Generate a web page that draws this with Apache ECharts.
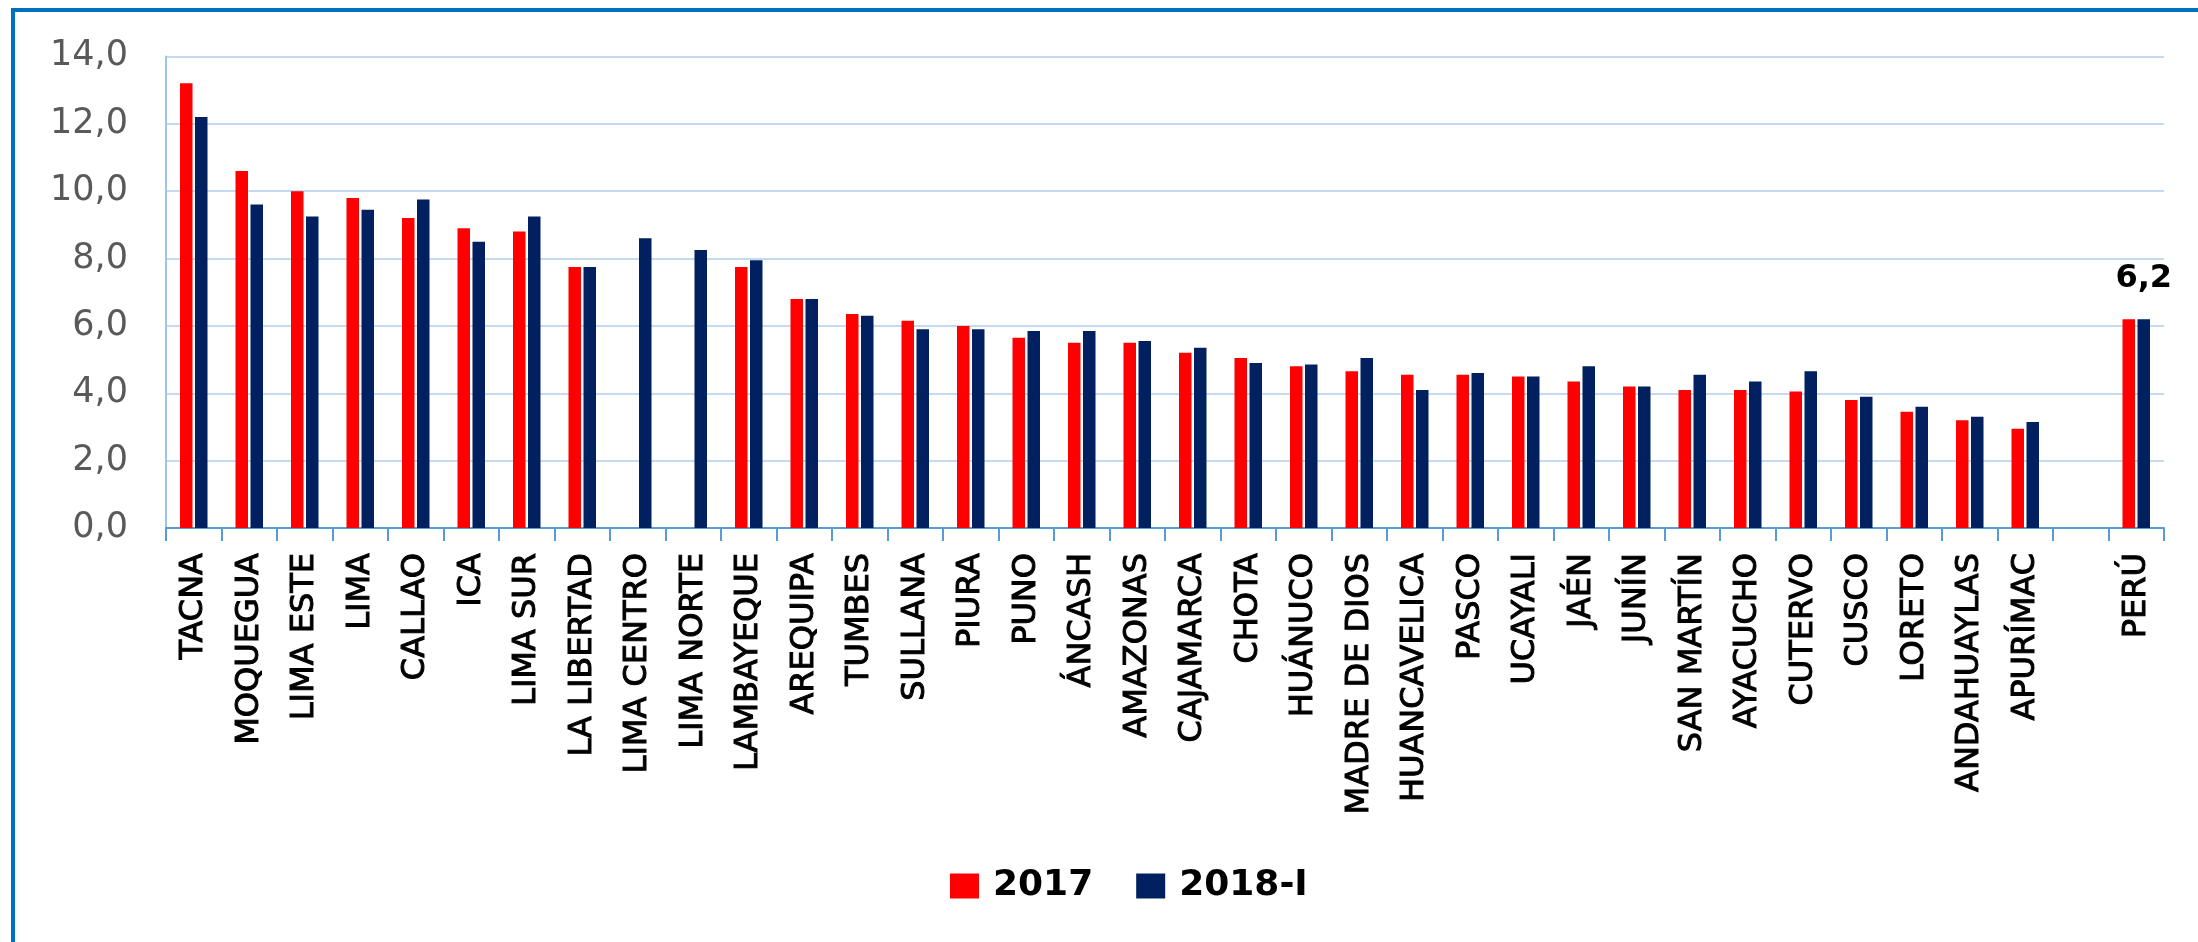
<!DOCTYPE html>
<html>
<head>
<meta charset="utf-8">
<script src="https://cdn.jsdelivr.net/npm/echarts@6/dist/echarts.min.js"></script>
<style>
  html, body { margin: 0; padding: 0; background: #ffffff; }
  #chart { width: 2198px; height: 942px; }
</style>
</head>
<body>
<div id="chart"></div>
<script>
const categories = ['TACNA','MOQUEGUA','LIMA ESTE','LIMA','CALLAO','ICA','LIMA SUR','LA LIBERTAD','LIMA CENTRO','LIMA NORTE','LAMBAYEQUE','AREQUIPA','TUMBES','SULLANA','PIURA','PUNO','ÁNCASH','AMAZONAS','CAJAMARCA','CHOTA','HUÁNUCO','MADRE DE DIOS','HUANCAVELICA','PASCO','UCAYALI','JAÉN','JUNÍN','SAN MARTÍN','AYACUCHO','CUTERVO','CUSCO','LORETO','ANDAHUAYLAS','APURÍMAC','','PERÚ'];
const values2017 = [13.2,10.6,10.0,9.8,9.2,8.9,8.8,7.75,null,null,7.75,6.8,6.35,6.15,6.0,5.65,5.5,5.5,5.2,5.05,4.8,4.65,4.55,4.55,4.5,4.35,4.2,4.1,4.1,4.05,3.8,3.45,3.2,2.95,null,6.2];
const values2018 = [12.2,9.6,9.25,9.45,9.75,8.5,9.25,7.75,8.6,8.25,7.95,6.8,6.3,5.9,5.9,5.85,5.85,5.55,5.35,4.9,4.85,5.05,4.1,4.6,4.5,4.8,4.2,4.55,4.35,4.65,3.9,3.6,3.3,3.15,null,6.2];
const seriesNames = ['2017','2018-I'];
const labelledCategory = 'PERÚ';

const fmt = v => Number(v).toFixed(1).replace('.', ',');
const peruIdx = categories.indexOf(labelledCategory);

const chart = echarts.init(document.getElementById('chart'), null, { renderer: 'canvas' });
chart.setOption({
  animation: false,
  backgroundColor: '#ffffff',
  graphic: [
    { type: 'line', shape: { x1: 13, y1: 10, x2: 13, y2: 942 }, style: { stroke: '#0070C0', lineWidth: 4 } },
    { type: 'line', shape: { x1: 11, y1: 10, x2: 2198, y2: 10 }, style: { stroke: '#0070C0', lineWidth: 4 } }
  ],
  legend: {
    data: seriesNames,
    left: 945,
    top: 863,
    itemWidth: 29,
    itemHeight: 25,
    itemGap: 43,
    icon: 'rect',
    textStyle: { fontFamily: 'DejaVu Sans', fontWeight: 'bold', fontSize: 36, color: '#000000', padding: [0, 0, 0, 9] }
  },
  grid: { left: 166, right: 34, top: 56.4, bottom: 414 },
  xAxis: {
    type: 'category',
    data: categories,
    axisLine: { show: true, lineStyle: { color: '#5B9BD5', width: 2 } },
    axisTick: { show: true, length: 13, lineStyle: { color: '#5B9BD5', width: 2 } },
    axisLabel: {
      interval: 0, rotate: 90, margin: 25,
      fontFamily: 'DejaVu Sans', fontSize: 32, color: '#000000',
      textBorderColor: '#000000', textBorderWidth: 1
    }
  },
  yAxis: {
    type: 'value',
    min: 0, max: 14, interval: 2,
    axisLine: { show: true, lineStyle: { color: '#9DC3E6', width: 2 } },
    axisTick: { show: false },
    splitLine: { lineStyle: { color: '#C5D9F1', width: 2 } },
    axisLabel: {
      margin: 38, fontFamily: 'DejaVu Sans', fontSize: 35, color: '#595959',
      formatter: v => fmt(v)
    }
  },
  series: [
    {
      name: seriesNames[0], type: 'bar', barWidth: 12.5, barGap: '20%',
      itemStyle: { color: '#FF0000' },
      data: values2017
    },
    {
      name: seriesNames[1], type: 'bar', barWidth: 12.5, barGap: '20%',
      itemStyle: { color: '#002060' },
      label: {
        show: false, position: 'top', distance: 24,
        fontFamily: 'DejaVu Sans', fontWeight: 'bold', fontSize: 32, color: '#000000',
        formatter: p => fmt(p.value)
      },
      data: values2018.map((v, i) => i === peruIdx ? { value: v, label: { show: true } } : v)
    }
  ]
});
</script>
</body>
</html>
